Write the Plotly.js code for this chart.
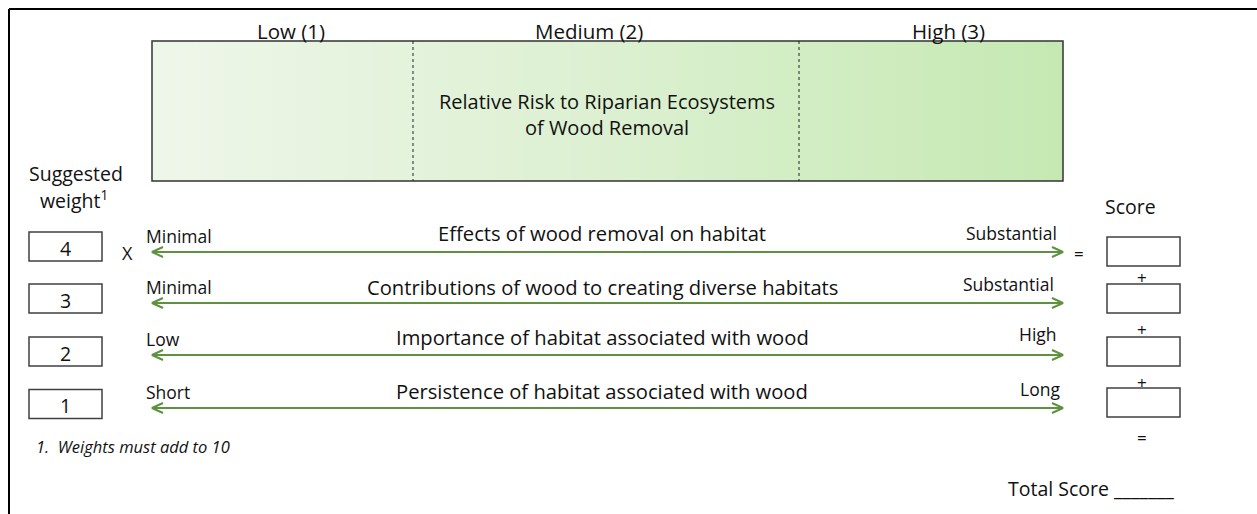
<!DOCTYPE html>
<html><head><meta charset="utf-8">
<script src="https://cdn.plot.ly/plotly-3.0.1.min.js"></script>
<style>html,body{margin:0;padding:0;background:#fff;}#chart{width:1257px;height:514px;}</style>
</head><body><div id="chart"></div>
<script>
// ---- data ----
const categories = ['Low (1)', 'Medium (2)', 'High (3)'];
const riskTitle = 'Relative Risk to Riparian Ecosystems<br>of Wood Removal';
const factors = [
  'Effects of wood removal on habitat',
  'Contributions of wood to creating diverse habitats',
  'Importance of habitat associated with wood',
  'Persistence of habitat associated with wood'
];
const lowLabels = ['Minimal', 'Minimal', 'Low', 'Short'];
const highLabels = ['Substantial', 'Substantial', 'High', 'Long'];
const weights = [4, 3, 2, 1];
const footnote = '1.  Weights must add to 10';
const gradientSteps = [0,1,2,3,4,5,6,7,8,9,10,11,12,13,14,15,16,17,18,19,20,21,22,23,24,25,26,27,28,29,30,31,32,33,34,35,36,37,38,39,40,41,42,43,44,45,46,47,48,49,50,51,52,53,54,55,56,57,58,59,60];

// ---- layout constants (pixel coordinates) ----
const FONT = '"Open Sans", "Noto Sans", sans-serif';
const W = 1257, H = 514;
const box = {x0: 152, x1: 1063, y0: 41, y1: 181};
const dividers = [413, 799];
const catX = [291, 589, 948];
const catY = 31;
const arrowY = [252, 303, 355, 408];
const lowLabY = [236, 287, 339, 392];
const highLabY = [233, 284, 334, 389];
const highLabX = [1059, 1056, 1059, 1062];
const titleY = [233, 287, 337, 391];
const wBoxY = [246.5, 298.5, 351.5, 404];
const sBoxY = [251.5, 298.5, 351.5, 402.5];
const wBoxX = [29, 102], sBoxX = [1107, 1180], boxH = 29;
const green = '#5e9140';

const traces = [];
// gradient band
const dx = (box.x1 - box.x0) / gradientSteps.length;
traces.push({
  type: 'heatmap',
  z: [gradientSteps, gradientSteps],
  x0: box.x0 + dx / 2, dx: dx,
  y: [box.y0 + 35, box.y1 - 35],
  colorscale: [[0, '#eef6e9'], [0.5, '#dcf0d1'], [1, '#c6e9b3']],
  showscale: false, hoverinfo: 'skip', zsmooth: 'best'
});
// arrows
arrowY.forEach(function (y) {
  const a = box.x0, b = box.x1, h = 11, v = 5;
  traces.push({
    type: 'scatter', mode: 'lines', hoverinfo: 'skip', showlegend: false,
    x: [a + h, a, a + h, null, a + 1, b - 1, null, b - h, b, b - h],
    y: [y - v, y, y + v, null, y, y, null, y - v, y, y + v],
    line: {color: green, width: 2}
  });
});

const shapes = [];
// outer frame (top and left)
shapes.push({type: 'line', xref: 'x', yref: 'y', x0: 9, x1: W + 5, y0: 9, y1: 9, line: {color: '#000', width: 2}});
shapes.push({type: 'line', xref: 'x', yref: 'y', x0: 9, x1: 9, y0: 9, y1: H + 5, line: {color: '#000', width: 2}});
// gradient box border
shapes.push({type: 'rect', xref: 'x', yref: 'y', x0: box.x0, x1: box.x1, y0: box.y0, y1: box.y1, line: {color: '#333', width: 1.5}});
dividers.forEach(function (x) {
  shapes.push({type: 'line', xref: 'x', yref: 'y', x0: x, x1: x, y0: box.y0, y1: box.y1, line: {color: '#222', width: 1, dash: 'dot'}});
});
weights.forEach(function (w, i) {
  shapes.push({type: 'rect', xref: 'x', yref: 'y', x0: wBoxX[0], x1: wBoxX[1], y0: wBoxY[i] - boxH / 2, y1: wBoxY[i] + boxH / 2, line: {color: '#404040', width: 1.5}});
  shapes.push({type: 'rect', xref: 'x', yref: 'y', x0: sBoxX[0], x1: sBoxX[1], y0: sBoxY[i] - boxH / 2, y1: sBoxY[i] + boxH / 2, line: {color: '#404040', width: 1.5}});
});

const ann = [];
function txt(x, y, text, size, xanchor, extra) {
  const a = {xref: 'x', yref: 'y', x: x, y: y, text: text, showarrow: false,
    xanchor: xanchor || 'center', yanchor: 'middle',
    font: {family: FONT, size: size, color: '#111'}};
  return Object.assign(a, extra || {});
}
categories.forEach(function (c, i) { ann.push(txt(catX[i], catY, c, 20.5)); });
ann.push(txt(607, 114, riskTitle, 20));
ann.push(txt(76, 173, 'Suggested', 19.5));
ann.push(txt(74, 199, 'weight<sup>1</sup>', 19.5));
ann.push(txt(1130, 206, 'Score', 19.5));
weights.forEach(function (w, i) {
  ann.push(txt(65.5, wBoxY[i] + 1.5, String(w), 19.5));
  ann.push(txt(144, lowLabY[i], lowLabels[i], 17.5, 'left'));
  ann.push(txt(highLabX[i], highLabY[i], highLabels[i], 17.5, 'right'));
  ann.push(txt(602, titleY[i], factors[i], 20.2));
});
ann.push(txt(127, 253, 'X', 18));
ann.push(txt(1079, 253, '=', 17));
[277, 329, 382].forEach(function (y) { ann.push(txt(1142, y, '+', 17)); });
ann.push(txt(1142, 437, '=', 17));
ann.push(txt(34, 446, '<i>' + footnote + '</i>', 16.5, 'left'));
ann.push(txt(1006, 488, 'Total Score _______', 19.5, 'left'));

const layout = {
  width: W, height: H,
  margin: {l: 0, r: 0, t: 0, b: 0, pad: 0},
  paper_bgcolor: '#fff', plot_bgcolor: '#fff',
  showlegend: false,
  xaxis: {range: [0, W], visible: false, fixedrange: true},
  yaxis: {range: [H, 0], visible: false, fixedrange: true},
  shapes: shapes,
  annotations: ann
};
Plotly.newPlot('chart', traces, layout, {displayModeBar: false, staticPlot: true});
</script></body></html>
